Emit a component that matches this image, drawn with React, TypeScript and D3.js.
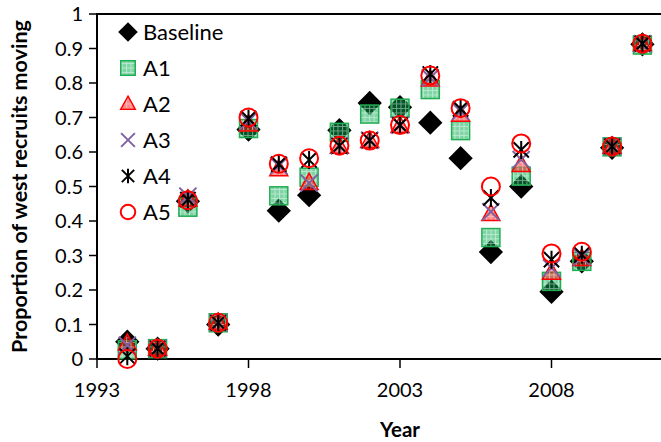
import React from "react";
import * as d3 from "d3";

const years = [1994, 1995, 1996, 1997, 1998, 1999, 2000, 2001, 2002, 2003, 2004, 2005, 2006, 2007, 2008, 2009, 2010, 2011];
const baseline = [0.05, 0.03, 0.457, 0.10, 0.665, 0.43, 0.475, 0.663, 0.742, 0.73, 0.685, 0.582, 0.31, 0.50, 0.195, 0.283, 0.612, 0.912];
const a1 = [0.027, 0.03, 0.44, 0.105, 0.668, 0.473, 0.527, 0.657, 0.71, 0.727, 0.781, 0.662, 0.352, 0.53, 0.225, 0.283, 0.615, 0.91];
const a2 = [0.045, 0.03, 0.462, 0.105, 0.68, 0.55, 0.51, 0.615, 0.632, 0.675, 0.81, 0.708, 0.42, 0.562, 0.25, 0.29, 0.615, 0.912];
const a3 = [0.04, 0.03, 0.472, 0.105, 0.69, 0.56, 0.51, 0.618, 0.634, 0.678, 0.815, 0.718, 0.427, 0.578, 0.264, 0.296, 0.616, 0.914];
const a4 = [0.008, 0.03, 0.462, 0.105, 0.697, 0.565, 0.577, 0.618, 0.634, 0.678, 0.826, 0.725, 0.467, 0.606, 0.288, 0.302, 0.616, 0.914];
const a5 = [0.0, 0.03, 0.46, 0.105, 0.70, 0.566, 0.582, 0.618, 0.633, 0.678, 0.822, 0.727, 0.50, 0.625, 0.306, 0.311, 0.616, 0.914];

const seriesNames = ["Baseline", "A1", "A2", "A3", "A4", "A5"];
const seriesValues = [baseline, a1, a2, a3, a4, a5];
const yTicks = [0, 0.1, 0.2, 0.3, 0.4, 0.5, 0.6, 0.7, 0.8, 0.9, 1];
const xTicks = [1993, 1998, 2003, 2008];

const W = 661;
const H = 442;
const FONT = "Lato, 'Open Sans', sans-serif";

function Marker({ kind, x, y, s }: { kind: number; x: number; y: number; s: number }) {
  const h = s / 2;
  switch (kind) {
    case 0: {
      const r = h * 1.35;
      return <path d={`M${x},${y - r}L${x + r},${y}L${x},${y + r}L${x - r},${y}Z`} fill="#000" />;
    }
    case 1:
      return (
        <rect x={x - h} y={y - h} width={s} height={s} fill="url(#gridGreen)" stroke="#21ad52" strokeWidth={1.5} />
      );
    case 2: {
      const th = s * 0.9;
      return (
        <path
          d={`M${x},${y - th * 0.6}L${x + h},${y + th * 0.4}L${x - h},${y + th * 0.4}Z`}
          fill="url(#gridRed)"
          stroke="#ff0000"
          strokeWidth={1.5}
          strokeLinejoin="miter"
        />
      );
    }
    case 3: {
      const r = h * 0.95;
      return (
        <path d={`M${x - r},${y - r}L${x + r},${y + r}M${x - r},${y + r}L${x + r},${y - r}`} stroke="#7f63a1" strokeWidth={2} />
      );
    }
    case 4: {
      const r = h * 0.85;
      return (
        <path
          d={`M${x - r},${y - r}L${x + r},${y + r}M${x - r},${y + r}L${x + r},${y - r}M${x},${y - h}L${x},${y + h}`}
          stroke="#000"
          strokeWidth={2}
        />
      );
    }
    default:
      return <circle cx={x} cy={y} r={h} fill="none" stroke="#ff0000" strokeWidth={2} />;
  }
}

export default function App() {
  const x = d3.scaleLinear().domain([1993, 2013]).range([97, 703]);
  const y = d3.scaleLinear().domain([0, 1]).range([359, 14]);
  const x0 = x(1993);
  const y0 = y(0);

  const legendY = d3.scaleLinear().domain([0, 5]).range([32, 212]);

  return (
    <svg width={W} height={H} style={{ position: "absolute", left: 0, top: 0, background: "#fff" }} fontFamily={FONT}>
      <defs>
        <pattern id="gridGreen" patternUnits="userSpaceOnUse" width={4.5} height={4.5}>
          <rect width={4.5} height={4.5} fill="rgba(0,170,75,0.5)" />
          <path d="M0,0.5H4.5M0.5,0V4.5" stroke="rgba(255,255,255,0.45)" strokeWidth={1} />
        </pattern>
        <pattern id="gridRed" patternUnits="userSpaceOnUse" width={4.5} height={4.5}>
          <rect width={4.5} height={4.5} fill="rgba(255,20,20,0.5)" />
          <path d="M0,0.5H4.5M0.5,0V4.5" stroke="rgba(255,255,255,0.4)" strokeWidth={1} />
        </pattern>
      </defs>

      {/* top border */}
      <line x1={x0} x2={W} y1={y(1)} y2={y(1)} stroke="#000" strokeWidth={2} />

      {/* y axis */}
      <line x1={x0} x2={x0} y1={y(1) - 1} y2={y0 + 1} stroke="#000" strokeWidth={2} />
      {yTicks.map((t) => (
        <g key={t}>
          <line x1={x0 - 8} x2={x0} y1={y(t)} y2={y(t)} stroke="#000" strokeWidth={1.5} />
          <text x={x0 - 14} y={y(t)} dy="0.36em" textAnchor="end" fontSize={20} fill="#000">
            {t}
          </text>
        </g>
      ))}

      {/* x axis */}
      <line x1={x0 - 1} x2={W} y1={y0} y2={y0} stroke="#000" strokeWidth={2} />
      {xTicks.map((t) => (
        <g key={t}>
          <line x1={x(t)} x2={x(t)} y1={y0} y2={y0 + 9} stroke="#000" strokeWidth={1.5} />
          <text x={x(t)} y={397} textAnchor="middle" fontSize={20} fill="#000">
            {t}
          </text>
        </g>
      ))}

      <text x={x(2003)} y={437} textAnchor="middle" fontSize={20.5} fontWeight="bold" fill="#000">
        Year
      </text>
      <text
        transform={`translate(27,${(y(0) + y(1)) / 2}) rotate(-90)`}
        textAnchor="middle"
        fontSize={21.5}
        fontWeight="bold"
        fill="#000"
      >
        Proportion of west recruits moving
      </text>

      {/* data */}
      {seriesValues.map((vals, si) => (
        <g key={si}>
          {vals.map((v, i) => (
            <Marker key={i} kind={si} x={x(years[i])} y={y(v)} s={18} />
          ))}
        </g>
      ))}

      {/* legend */}
      {seriesNames.map((name, si) => (
        <g key={name}>
          <Marker kind={si} x={128} y={legendY(si)} s={14.5} />
          <text x={143} y={legendY(si)} dy="0.36em" fontSize={22} fill="#000">
            {name}
          </text>
        </g>
      ))}
    </svg>
  );
}
